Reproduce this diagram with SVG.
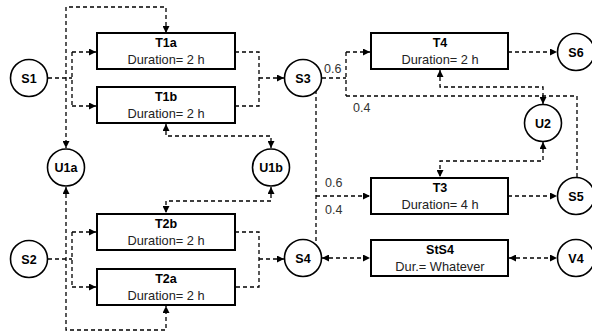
<svg xmlns="http://www.w3.org/2000/svg" width="592" height="333" viewBox="0 0 592 333">
  <defs>
    <marker id="arr" viewBox="0 0 10 10" refX="10" refY="5" markerWidth="7" markerHeight="7" markerUnits="userSpaceOnUse" orient="auto-start-reverse">
      <path d="M0,0 L10,5 L0,10 Z" fill="#000"/>
    </marker>
    <style>
      .box { fill: #fff; stroke: #000; stroke-width: 2; }
      .st { fill: #fff; stroke: #000; stroke-width: 1.6; }
      .lbl { font-family: "Liberation Sans", Arial, sans-serif; font-weight: bold; font-size: 12.5px; text-anchor: middle; fill: #000; }
      .sub { font-family: "Liberation Sans", Arial, sans-serif; font-size: 12.8px; text-anchor: middle; fill: #222; }
      .frac { font-family: "Liberation Sans", Arial, sans-serif; font-size: 12.5px; fill: #333; }
      .ln { fill: none; stroke: #000; stroke-width: 1.3; stroke-dasharray: 4 3; }
      .a { marker-end: url(#arr); }
      .b { marker-start: url(#arr); marker-end: url(#arr); }
    </style>
  </defs>

  <!-- connectors -->
  <g id="connectors">
    <!-- S1 feeds T1a / T1b -->
    <path class="ln" d="M48,78 H72"/>
    <path class="ln" d="M72,52 V106"/>
    <path class="ln a" d="M72,52 H96"/>
    <path class="ln a" d="M72,106 H96"/>
    <!-- U1a to T1a over the top -->
    <path class="ln b" d="M166,33 V7 H66 V148"/>
    <!-- T1a / T1b into S3 -->
    <path class="ln" d="M235,52 H259 V106 H235"/>
    <path class="ln a" d="M259,78 H284"/>
    <!-- T1b to U1b -->
    <path class="ln b" d="M166,124 V136 H271 V148"/>
    <!-- U1b to T2b -->
    <path class="ln b" d="M271,187 V201 H166 V213"/>
    <!-- S2 feeds T2b / T2a -->
    <path class="ln" d="M48,259 H72"/>
    <path class="ln" d="M72,232 V287"/>
    <path class="ln a" d="M72,232 H96"/>
    <path class="ln a" d="M72,287 H96"/>
    <!-- U1a to T2a under the bottom -->
    <path class="ln b" d="M66,187 V330 H166 V306"/>
    <!-- T2b / T2a into S4 -->
    <path class="ln" d="M235,232 H259 V287 H235"/>
    <path class="ln a" d="M259,259 H284"/>
    <!-- S3 split to T4 and recycle -->
    <path class="ln" d="M322,78 H346"/>
    <path class="ln" d="M346,52 V96"/>
    <path class="ln a" d="M346,52 H370"/>
    <path class="ln" d="M346,96 H577 V177"/>
    <!-- T4 to U2 -->
    <path class="ln b" d="M440,70 V87 H543 V104"/>
    <!-- U2 to T3 -->
    <path class="ln b" d="M543,142 V161 H440 V177"/>
    <!-- S3 / S4 link to T3 -->
    <path class="ln" d="M316,90 V241"/>
    <path class="ln a" d="M316,196 H370"/>
    <!-- outputs -->
    <path class="ln a" d="M508,52 H557"/>
    <path class="ln a" d="M508,196 H557"/>
    <path class="ln b" d="M322,258 H370"/>
    <path class="ln b" d="M509,258 H557"/>
    <!-- split fractions -->
    <text class="frac" x="324" y="73">0.6</text>
    <text class="frac" x="353" y="112">0.4</text>
    <text class="frac" x="325" y="187">0.6</text>
    <text class="frac" x="325" y="214">0.4</text>
  </g>

  <!-- tasks -->
  <g id="T1a"><rect class="box" x="97" y="33" width="138" height="36"/><text class="lbl" x="166" y="47">T1a</text><text class="sub" x="166" y="64">Duration= 2 h</text></g>
  <g id="T1b"><rect class="box" x="97" y="87" width="138" height="36"/><text class="lbl" x="166" y="101">T1b</text><text class="sub" x="166" y="118">Duration= 2 h</text></g>
  <g id="T2b"><rect class="box" x="97" y="214" width="138" height="36"/><text class="lbl" x="166" y="228">T2b</text><text class="sub" x="166" y="245">Duration= 2 h</text></g>
  <g id="T2a"><rect class="box" x="97" y="269" width="138" height="36"/><text class="lbl" x="166" y="283">T2a</text><text class="sub" x="166" y="300">Duration= 2 h</text></g>
  <g id="T4"><rect class="box" x="371" y="33" width="137" height="36"/><text class="lbl" x="440" y="47">T4</text><text class="sub" x="440" y="64">Duration= 2 h</text></g>
  <g id="T3"><rect class="box" x="371" y="178" width="137" height="36"/><text class="lbl" x="440" y="192">T3</text><text class="sub" x="440" y="209">Duration= 4 h</text></g>
  <g id="StS4"><rect class="box" x="371" y="240" width="137" height="36"/><text class="lbl" x="440" y="254">StS4</text><text class="sub" x="440" y="271">Dur.= Whatever</text></g>

  <!-- states and utilities -->
  <g id="S1"><circle class="st" cx="29" cy="78" r="18.5"/><text class="lbl" x="29" y="82.5">S1</text></g>
  <g id="S2"><circle class="st" cx="29" cy="259" r="18.5"/><text class="lbl" x="29" y="263.5">S2</text></g>
  <g id="U1a"><circle class="st" cx="66" cy="167.5" r="18.5"/><text class="lbl" x="66" y="172">U1a</text></g>
  <g id="U1b"><circle class="st" cx="271" cy="167.5" r="18.5"/><text class="lbl" x="271" y="172">U1b</text></g>
  <g id="S3"><circle class="st" cx="303" cy="78" r="18.5"/><text class="lbl" x="303" y="82.5">S3</text></g>
  <g id="S4"><circle class="st" cx="303" cy="258" r="18.5"/><text class="lbl" x="303" y="262.5">S4</text></g>
  <g id="U2"><circle class="st" cx="543" cy="123" r="18.5"/><text class="lbl" x="543" y="127.5">U2</text></g>
  <g id="S6"><circle class="st" cx="576" cy="52" r="18.5"/><text class="lbl" x="576" y="56.5">S6</text></g>
  <g id="S5"><circle class="st" cx="576" cy="196" r="18.5"/><text class="lbl" x="576" y="200.5">S5</text></g>
  <g id="V4"><circle class="st" cx="576" cy="258" r="18.5"/><text class="lbl" x="576" y="262.5">V4</text></g>
</svg>
